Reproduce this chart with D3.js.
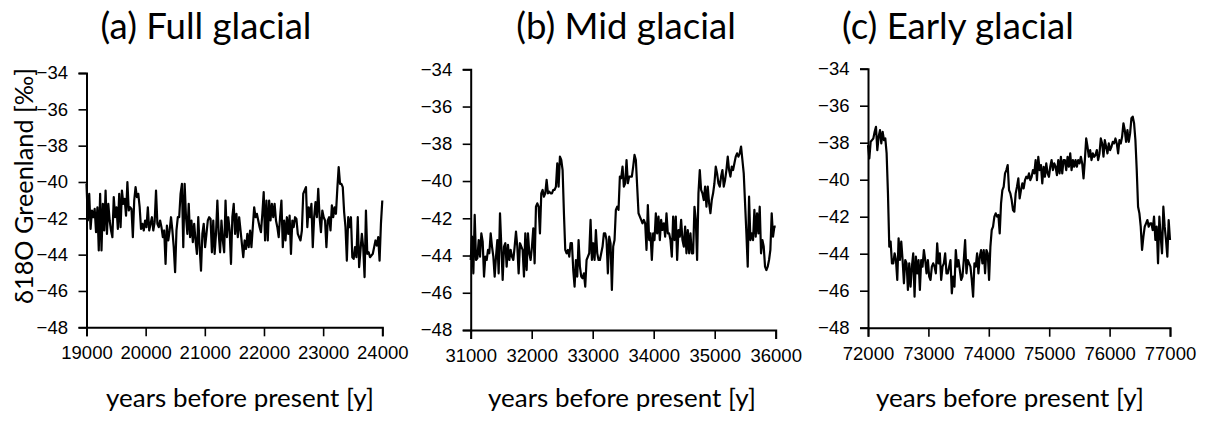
<!DOCTYPE html>
<html><head><meta charset="utf-8">
<script src="https://cdn.jsdelivr.net/npm/d3@7"></script>
<style>body{margin:0;background:#fff}</style>
</head><body>
<svg id="chart" width="1208" height="423"></svg>
<script>
const titles = ["(a) Full glacial", "(b) Mid glacial", "(c) Early glacial"];
const xDomains = [[19000, 24000], [31000, 36000], [72000, 77000]];
const xTickValues = [
  [19000, 20000, 21000, 22000, 23000, 24000],
  [31000, 32000, 33000, 34000, 35000, 36000],
  [72000, 73000, 74000, 75000, 76000, 77000]
];
const yDomain = [-48, -34];
const yTickValues = [-34, -36, -38, -40, -42, -44, -46, -48];
const xLabel = "years before present [y]";
const yLabel = "δ18O Greenland [‰]";

// δ18O values, evenly spaced in time across each panel's window
const valuesA = [
-40.10,-42.12,-40.65,-42.58,-41.57,-41.94,-41.48,-42.76,-41.39,-43.77,
-40.65,-43.77,-41.20,-42.67,-40.47,-42.86,-41.20,-42.12,-42.67,-43.04,
-40.83,-41.94,-41.39,-42.58,-40.65,-42.49,-40.47,-41.20,-40.93,-41.85,
-40.01,-41.57,-41.39,-41.48,-43.04,-41.02,-40.28,-40.83,-40.65,-41.39,
-42.58,-42.30,-42.67,-42.12,-42.49,-41.39,-42.67,-42.30,-41.94,-42.67,
-42.21,-40.47,-42.30,-42.49,-42.12,-42.49,-43.04,-42.67,-44.51,-42.40,
-43.22,-42.67,-41.94,-42.67,-43.59,-44.97,-42.67,-41.94,-41.94,-40.65,
-40.10,-43.59,-40.10,-41.94,-42.86,-41.20,-43.04,-42.12,-43.31,-42.30,
-43.22,-43.96,-41.94,-43.59,-44.88,-42.86,-42.30,-43.59,-42.86,-42.12,
-41.94,-42.03,-43.87,-42.12,-43.96,-42.86,-41.02,-42.86,-43.87,-42.12,
-43.22,-43.87,-41.02,-43.04,-41.94,-42.67,-44.51,-41.94,-41.20,-42.86,
-41.75,-43.04,-41.94,-42.67,-43.41,-44.14,-43.22,-43.68,-42.86,-43.59,
-42.67,-43.59,-42.49,-41.39,-41.94,-41.75,-42.12,-42.49,-42.76,-41.75,
-40.56,-43.22,-41.02,-43.22,-41.02,-42.12,-41.20,-41.94,-41.20,-42.12,
-42.49,-43.04,-41.94,-41.02,-43.59,-42.12,-43.22,-41.94,-42.86,-41.85,
-43.96,-42.12,-42.49,-41.94,-42.03,-42.86,-43.04,-43.22,-42.67,-40.65,
-40.47,-40.28,-42.49,-41.39,-41.94,-41.20,-43.59,-41.94,-41.11,-41.94,
-40.38,-41.94,-42.76,-41.57,-41.94,-42.12,-43.59,-42.12,-41.94,-42.67,
-41.29,-41.94,-41.39,-41.75,-40.38,-39.18,-40.10,-40.10,-40.28,-41.66,
-42.49,-44.33,-41.94,-42.49,-41.94,-44.14,-44.23,-43.59,-44.14,-41.94,
-44.69,-43.77,-42.86,-43.59,-45.24,-41.57,-43.96,-43.87,-44.14,-44.05,
-43.96,-43.59,-43.22,-43.50,-43.04,-44.33,-42.30,-41.02
];
const valuesB = [
-44.24,-42.99,-44.96,-41.82,-44.24,-44.15,-43.17,-44.06,-42.81,-43.26,
-45.13,-44.06,-44.24,-43.70,-43.88,-42.81,-43.52,-44.06,-45.13,-44.06,
-43.17,-44.96,-41.73,-43.52,-45.31,-43.52,-43.34,-44.60,-43.43,-44.24,
-43.70,-44.06,-44.24,-43.52,-42.72,-43.52,-44.96,-43.34,-43.52,-43.70,
-45.13,-42.81,-44.78,-42.81,-43.88,-44.24,-43.52,-42.54,-44.42,-41.38,
-41.20,-41.38,-42.81,-40.66,-40.48,-40.84,-40.66,-39.94,-40.66,-40.57,
-40.66,-40.66,-40.48,-40.48,-40.30,-39.05,-40.30,-38.69,-38.87,-39.41,
-41.73,-43.70,-43.88,-43.70,-44.06,-43.34,-43.34,-44.78,-45.67,-44.24,
-45.13,-43.17,-44.60,-45.13,-45.22,-44.96,-45.67,-44.24,-44.06,-43.88,
-42.09,-44.24,-43.34,-44.24,-42.63,-43.88,-44.24,-44.24,-43.88,-43.52,
-42.81,-42.81,-43.17,-44.96,-42.99,-43.34,-45.85,-43.52,-43.17,-41.55,
-41.38,-41.55,-39.76,-39.85,-39.23,-40.30,-40.12,-38.87,-40.12,-39.76,
-39.76,-39.76,-39.23,-38.60,-38.87,-40.30,-41.73,-41.91,-42.09,-42.27,
-42.09,-42.27,-43.70,-41.29,-43.17,-42.81,-44.24,-42.81,-43.17,-41.73,
-42.81,-41.91,-43.17,-42.09,-42.63,-42.27,-42.99,-41.73,-42.81,-42.81,
-43.17,-44.06,-41.91,-43.17,-41.91,-44.24,-42.63,-42.99,-42.09,-43.17,
-43.52,-42.45,-43.88,-42.63,-43.88,-42.81,-43.88,-43.88,-41.38,-42.09,
-44.24,-40.66,-39.41,-40.48,-40.66,-41.02,-40.30,-41.38,-40.30,-41.20,
-41.73,-41.02,-40.66,-40.12,-39.23,-39.59,-40.12,-40.30,-39.76,-39.41,
-40.30,-39.94,-39.41,-38.69,-39.41,-39.76,-39.23,-39.41,-39.05,-38.69,
-38.51,-38.69,-38.51,-38.15,-38.87,-39.59,-41.20,-42.81,-44.60,-40.84,
-43.17,-42.81,-43.17,-41.55,-42.99,-41.73,-42.81,-41.38,-43.88,-43.17,
-43.52,-44.60,-44.78,-44.60,-44.24,-43.70,-41.73,-42.99,-42.45,-42.45
];
const valuesC = [
-38.13,-38.85,-37.95,-37.86,-37.77,-37.41,-37.14,-38.40,-37.68,-37.32,
-38.04,-37.41,-37.86,-37.77,-38.58,-40.74,-43.62,-43.35,-44.52,-44.52,
-43.98,-44.34,-45.42,-43.17,-44.34,-43.35,-44.34,-45.60,-44.34,-44.52,
-45.96,-44.52,-45.78,-44.70,-43.98,-46.32,-44.16,-45.06,-44.34,-45.96,
-44.34,-44.70,-43.80,-44.34,-45.06,-44.34,-45.24,-45.42,-44.70,-44.52,
-44.70,-45.06,-43.44,-44.52,-43.98,-45.42,-44.70,-44.52,-43.98,-45.06,
-45.06,-44.70,-44.34,-46.14,-45.24,-45.78,-43.80,-44.70,-44.34,-44.88,
-45.42,-45.24,-44.34,-43.26,-45.06,-44.34,-44.52,-44.70,-45.42,-46.32,
-44.52,-44.70,-43.98,-45.06,-44.16,-43.80,-44.52,-43.80,-45.06,-43.80,
-43.98,-45.42,-43.62,-42.72,-42.54,-42.00,-41.82,-42.00,-41.91,-42.90,
-41.28,-40.56,-40.38,-39.66,-39.48,-39.21,-40.56,-40.74,-41.10,-41.64,
-41.73,-40.74,-40.38,-39.93,-41.01,-40.56,-40.20,-40.47,-40.02,-39.84,
-39.93,-39.66,-40.02,-39.84,-39.48,-39.66,-38.94,-40.02,-38.76,-39.48,
-39.21,-40.20,-39.30,-39.84,-39.12,-39.66,-39.84,-39.30,-38.94,-39.48,
-39.12,-39.30,-39.75,-38.94,-39.66,-38.76,-39.66,-38.94,-38.94,-39.48,
-38.76,-39.30,-38.58,-39.48,-38.94,-39.30,-38.94,-39.30,-38.94,-39.12,
-38.76,-39.12,-39.93,-38.94,-37.77,-38.22,-38.76,-38.40,-38.94,-38.58,
-38.76,-38.67,-38.40,-38.94,-38.58,-37.77,-38.04,-38.76,-37.86,-38.22,
-38.58,-38.04,-38.40,-38.22,-37.95,-38.04,-37.77,-38.04,-38.58,-37.86,
-38.04,-37.68,-36.95,-37.32,-37.95,-37.32,-37.95,-37.50,-36.68,-36.59,
-36.95,-37.86,-39.48,-41.46,-41.82,-42.54,-43.80,-43.08,-42.54,-42.36,
-42.18,-42.54,-42.36,-42.36,-42.72,-42.00,-43.26,-42.54,-44.52,-42.00,
-43.08,-43.98,-41.46,-42.54,-43.26,-44.16,-42.18,-43.26
];
const seriesValues = [valuesA, valuesB, valuesC];

// layout (pixels)
const panels = [
  {x0: 86.5, x1: 382.3, yTop: 73.0, yBot: 327.3, titleX: 206, xlabX: 240},
  {x0: 470.7, x1: 775.7, yTop: 69.3, yBot: 330.0, titleX: 626, xlabX: 622},
  {x0: 868.0, x1: 1170.0, yTop: 68.7, yBot: 327.7, titleX: 958, xlabX: 1010}
];

const svg = d3.select("#chart");
const tickFont = "'Liberation Sans', Arial, Helvetica, sans-serif";
const labelFont = "Lato, 'Open Sans', sans-serif";

panels.forEach((p, k) => {
  const x = d3.scaleLinear().domain(xDomains[k]).range([p.x0, p.x1]);
  const y = d3.scaleLinear().domain(yDomain).range([p.yBot, p.yTop]);
  const g = svg.append("g");

  const xAxis = g.append("g").attr("transform", `translate(0,${p.yBot})`)
    .call(d3.axisBottom(x).tickValues(xTickValues[k]).tickFormat(d3.format("d"))
      .tickSize(9).tickPadding(10));
  const yAxis = g.append("g").attr("transform", `translate(${p.x0},0)`)
    .call(d3.axisLeft(y).tickValues(yTickValues).tickSize(8).tickPadding(10.5));
  [xAxis, yAxis].forEach(a => {
    a.selectAll("path.domain").attr("stroke", "#000").attr("stroke-width", 2);
    a.selectAll(".tick line").attr("stroke", "#000").attr("stroke-width", 1.6);
    a.selectAll("text").attr("fill", "#000").style("font-family", tickFont).style("font-size", "18.5px");
  });

  const vals = seriesValues[k];
  const n = vals.length;
  const step = (xDomains[k][1] - xDomains[k][0]) / (n - 1);
  const line = d3.line()
    .x((d, i) => x(xDomains[k][0] + i * step))
    .y(d => y(d));
  g.append("path").datum(vals)
    .attr("fill", "none").attr("stroke", "#000")
    .attr("stroke-width", 2.2).attr("stroke-linejoin", "round")
    .attr("d", line);

  g.append("text").attr("class", "title")
    .attr("x", p.titleX).attr("y", 38.5).attr("text-anchor", "middle")
    .style("font-family", labelFont).text(titles[k]);
  g.append("text").attr("class", "xlab")
    .attr("x", p.xlabX).attr("y", 407).attr("text-anchor", "middle")
    .style("font-family", labelFont).text(xLabel);
});

svg.append("text").attr("class", "ylab")
  .attr("transform", "translate(33,186) rotate(-90)")
  .attr("text-anchor", "middle")
  .style("font-family", labelFont).text(yLabel);

// size label fonts so the text widths match the figure
function fitSize(sel, target) {
  sel.style("font-size", "30px");
  const w = sel.node().getComputedTextLength();
  return 30 * target / w;
}
const tSize = fitSize(svg.select("text.title"), 211);
svg.selectAll("text.title").style("font-size", tSize + "px");
const xlSize = fitSize(svg.select("text.xlab"), 268);
svg.selectAll("text.xlab").style("font-size", xlSize + "px");
const ylSize = fitSize(svg.select("text.ylab"), 236);
svg.select("text.ylab").style("font-size", ylSize + "px");
</script>
</body></html>
